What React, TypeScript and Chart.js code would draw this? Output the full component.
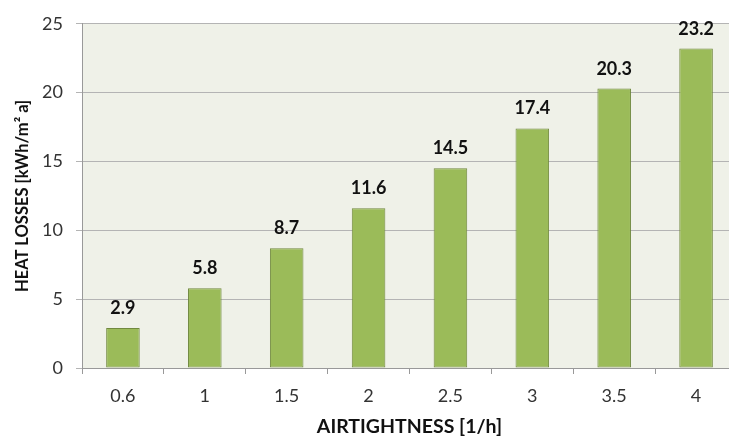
import React, { useEffect, useRef } from "react";
import { Chart, registerables } from "chart.js";

Chart.register(...registerables);

const categories = ["0.6", "1", "1.5", "2", "2.5", "3", "3.5", "4"];
const heatLosses = [2.9, 5.8, 8.7, 11.6, 14.5, 17.4, 20.3, 23.2];
const yTicks = [0, 5, 10, 15, 20, 25];

const FONT = "Lato, 'Open Sans', sans-serif";

const bgPlugin = {
  id: "plotBg",
  beforeDraw(chart: any) {
    const { ctx, chartArea } = chart;
    ctx.save();
    ctx.fillStyle = "#eff1e8";
    ctx.fillRect(chartArea.left, chartArea.top, chartArea.right - chartArea.left, chartArea.bottom - chartArea.top);
    ctx.restore();
  },
};

const labelPlugin = {
  id: "valueLabels",
  afterDraw(chart: any) {
    const { ctx } = chart;
    const meta = chart.getDatasetMeta(0);
    ctx.save();
    ctx.font = `bold 18px ${FONT}`;
    ctx.fillStyle = "#111";
    ctx.textAlign = "center";
    ctx.textBaseline = "alphabetic";
    meta.data.forEach((bar: any, i: number) => {
      ctx.fillText(String(heatLosses[i]), bar.x, bar.y - 14);
    });
    ctx.restore();
  },
};

export default function App() {
  const ref = useRef<HTMLCanvasElement | null>(null);
  useEffect(() => {
    if (!ref.current) return;
    const chart = new Chart(ref.current, {
      type: "bar",
      data: {
        labels: categories,
        datasets: [
          {
            data: heatLosses,
            backgroundColor: "#9bbb59",
            borderColor: "#71893f",
            borderWidth: 1,
            borderSkipped: false,
            barPercentage: 0.41,
            categoryPercentage: 1,
          },
        ],
      },
      options: {
        animation: false,
        responsive: false,
        maintainAspectRatio: false,
        layout: { padding: { top: 22, right: 8, left: 0, bottom: 0 } },
        plugins: { legend: { display: false }, tooltip: { enabled: false } },
        scales: {
          x: {
            grid: { drawOnChartArea: false, drawTicks: true, tickLength: 6, color: "#999", offset: true },
            border: { color: "#999" },
            ticks: { font: { size: 18, family: FONT }, color: "#333", padding: 11 },
            title: {
              display: true,
              text: "AIRTIGHTNESS [1/h]",
              font: { size: 19.5, weight: "bold", family: FONT },
              color: "#111",
              padding: { top: 1, bottom: 0 },
            },
            afterFit: (s: any) => {
              s.height = 70;
            },
          },
          y: {
            min: 0,
            max: 25,
            afterBuildTicks: (s: any) => {
              s.ticks = yTicks.map((v) => ({ value: v }));
            },
            grid: { color: "#b4b4b4", tickLength: 6 },
            border: { color: "#999" },
            ticks: { font: { size: 18, family: FONT }, color: "#333", padding: 13 },
            title: {
              display: true,
              text: "HEAT LOSSES [kWh/m² a]",
              font: { size: 16.5, weight: "bold", family: FONT },
              color: "#111",
              padding: { top: 13, bottom: 0 },
            },
            afterFit: (s: any) => {
              s.width = 82;
            },
          },
        },
      },
      plugins: [bgPlugin, labelPlugin],
    });
    return () => chart.destroy();
  }, []);
  return (
    <div style={{ position: "fixed", left: 0, top: 0, width: 729, height: 438, overflow: "hidden", background: "#fff" }}>
      <canvas ref={ref} width={745} height={438} style={{ width: 745, height: 438, display: "block" }} />
    </div>
  );
}
